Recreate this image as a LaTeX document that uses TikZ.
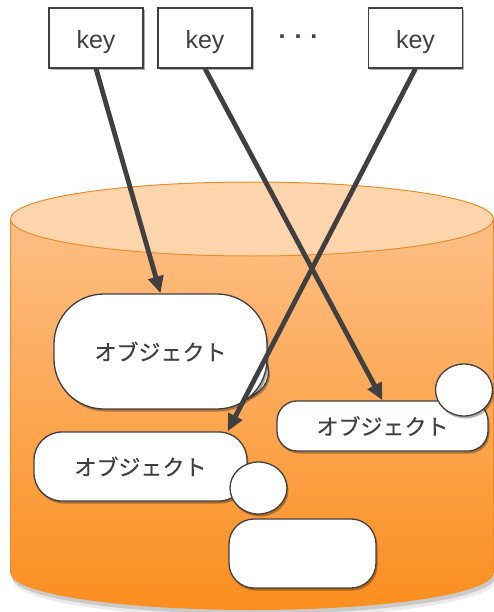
\documentclass[tikz,border=0pt]{standalone}
\usepackage{fontspec}
\setmainfont{Liberation Sans}
\newfontfamily\jpfont[FakeBold=0.4]{Noto Sans CJK JP}
\usetikzlibrary{shapes.geometric,shadows,arrows.meta}
\definecolor{ink}{HTML}{404040}
\definecolor{cyltop}{HTML}{FDD5AD}
\definecolor{cylhi}{HTML}{FDBF86}
\definecolor{cyllo}{HTML}{FB8E1E}
\definecolor{cyledge}{HTML}{EE8B2B}
\tikzset{
  shad/.style={drop shadow={shadow xshift=1.5pt,shadow yshift=-2.5pt,opacity=0.3,fill=black}},
  keybox/.style={draw=ink,line width=1.2pt,fill=white,minimum width=94pt,minimum height=60pt,inner sep=0pt,text=ink,text height=26pt,text depth=5pt,font=\fontsize{25}{25}\selectfont,shad},
  objbox/.style={draw=ink,line width=1.3pt,fill=white,inner sep=0pt,text=ink,font=\jpfont\fontsize{22}{22}\selectfont,shad},
  bub/.style={ellipse,draw=ink,line width=1.3pt,fill=white,minimum width=57pt,minimum height=52pt,inner sep=0pt,shad},
  link/.style={draw=ink,line width=4.8pt,-{Triangle[length=17pt,width=15pt]}}
}
\begin{document}
\begin{tikzpicture}[x=1pt,y=1pt]
\useasboundingbox (0,0) rectangle (494,-612);
% cylinder shadow
\fill[black,opacity=0.14] (12,-222) -- (12,-577) arc[start angle=180,end angle=360,x radius=241.5,y radius=37] -- (495,-222) -- cycle;
\fill[black,opacity=0.08] (13,-224) -- (13,-580) arc[start angle=180,end angle=360,x radius=241.5,y radius=37.5] -- (496,-224) -- cycle;
% cylinder body
\shade[top color=cylhi,bottom color=cyllo] (10.5,-219) -- (10.5,-573) arc[start angle=180,end angle=360,x radius=241.5,y radius=37] -- (493.5,-219) -- cycle;
\draw[cyledge,line width=1pt] (10.5,-219) -- (10.5,-573);
\draw[cyledge,line width=1pt] (493.5,-219) -- (493.5,-573);
\filldraw[fill=cyltop,draw=cyledge,line width=1pt] (252,-219) ellipse[x radius=241.5,y radius=37];
% objects
\node[bub,top color=white,bottom color=gray!25] (c1) at (240,-372) {};
\node[objbox,rounded corners=50pt,minimum width=213pt,minimum height=115pt] (o1) at (160.5,-351.5) {オブジェクト};
\node[objbox,rounded corners=20pt,minimum width=211pt,minimum height=50pt] (o2) at (382.5,-426) {オブジェクト};
\node[bub] (c2) at (464,-390) {};
\node[objbox,rounded corners=28pt,minimum width=213pt,minimum height=69pt] (o3) at (140.5,-466.5) {オブジェクト};
\node[bub] (c3) at (258.5,-488) {};
\node[objbox,rounded corners=25pt,minimum width=147pt,minimum height=69pt] (o4) at (302.5,-553.5) {};
% keys
\node[keybox] (k1) at (96,-38) {key};
\node[keybox] (k2) at (205,-38) {key};
\node[keybox] (k3) at (415.5,-38) {key};
\node[text=ink,font=\bfseries\fontsize{25}{25}\selectfont,inner sep=0pt] (dots) at (298,-37) {.\hspace{9pt}.\hspace{9pt}.};
% links
\draw[link] (k1.south) -- (o1.north);
\draw[link] (k2.south) -- (o2.north);
\draw[link] (k3.south) -- ([xshift=-20pt]o3.north east);
\end{tikzpicture}
\end{document}
